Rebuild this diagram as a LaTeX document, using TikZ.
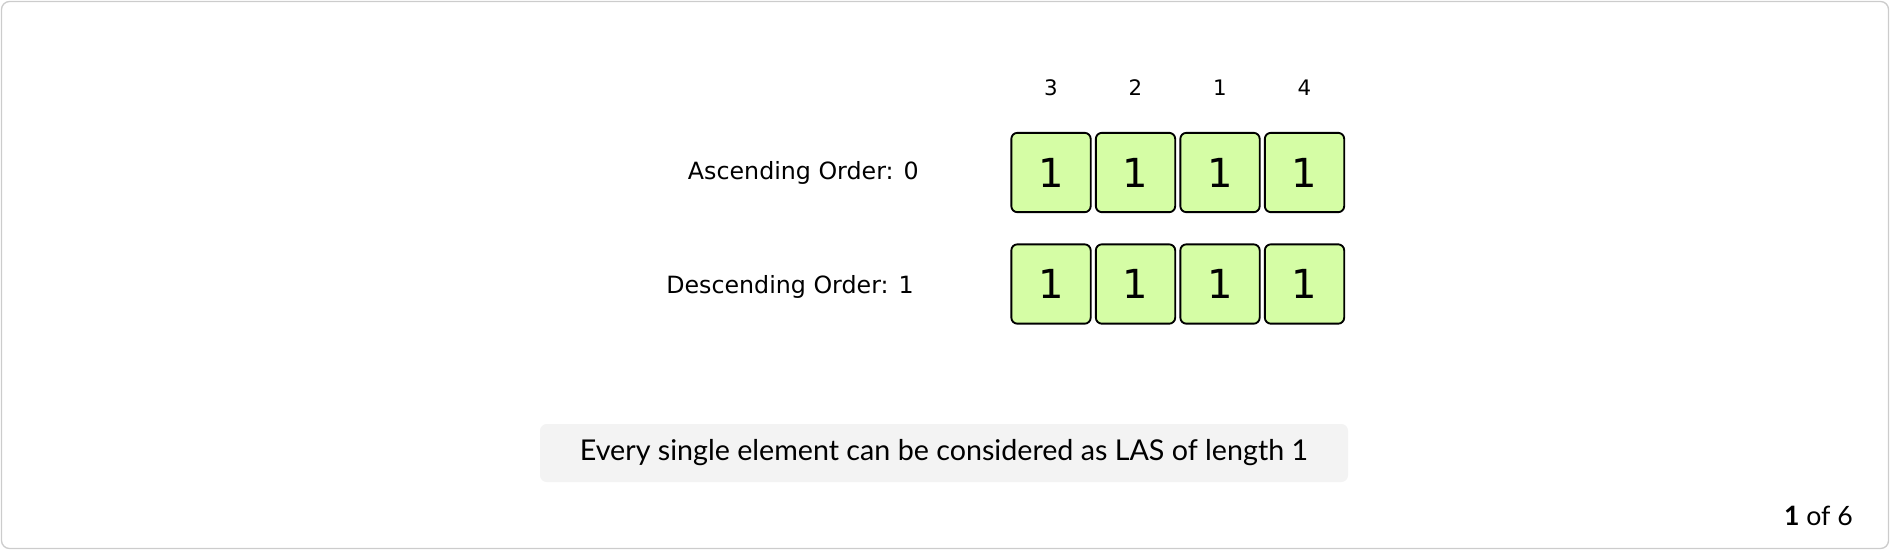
\documentclass[tikz,border=0pt]{standalone}
\usepackage{fontspec}
\newfontfamily\verd{DejaVu Sans}
\newfontfamily\nun{Lato}
\definecolor{cellgreen}{HTML}{D5FDA5}
\definecolor{notegray}{HTML}{F3F3F3}
\definecolor{framegray}{HTML}{CCCCCC}
\begin{document}
\begin{tikzpicture}[x=0.75pt,y=-0.75pt,
  cell/.style={draw=black,line width=1.4pt,fill=cellgreen,rounded corners=4.5pt,
    minimum width=59.5pt,minimum height=59.5pt,inner sep=0pt,
    font=\verd\fontsize{30}{32}\selectfont},
  idx/.style={inner sep=0pt,font=\verd\fontsize{16}{18}\selectfont},
  lbl/.style={inner sep=0pt,font=\verd\fontsize{17.8}{20}\selectfont},
  note/.style={fill=notegray,rounded corners=5pt,minimum width=606pt,minimum height=43.5pt,
    inner sep=0pt,font=\nun\fontsize{21.5}{24}\selectfont},
  counter/.style={inner sep=0pt,font=\nun\fontsize{20}{22}\selectfont}]
\useasboundingbox (0,0) rectangle (1890,550);
\draw[framegray,line width=1pt,rounded corners=6pt] (1.5,1.5) rectangle (1888.5,548.5);

\foreach \i/\x/\v in {1/1051/3,2/1135.5/2,3/1220/1,4/1304.5/4}{
  \node[idx] (t\i) at (\x,88) {\v};
  \node[cell] (a\i) at (\x,172.5) {1};
  \node[cell] (d\i) at (\x,284) {1};
}
\node[lbl,anchor=east] (asc) at (919,173) {Ascending Order: 0};
\node[lbl,anchor=east] (desc) at (914,287) {Descending Order: 1};

\node[note] (n) at (944,453) {Every single element can be considered as LAS of length 1};
\node[counter,anchor=east] (c) at (1853,516) {\textbf{1} of 6};
\end{tikzpicture}
\end{document}
